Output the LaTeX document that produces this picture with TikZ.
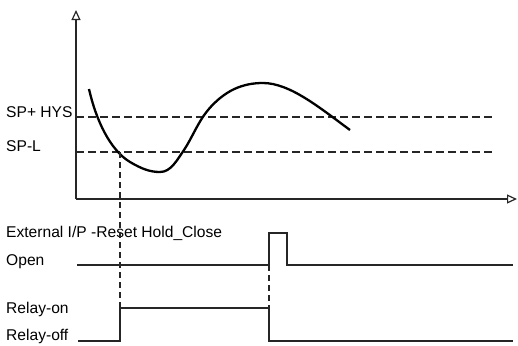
\documentclass[tikz,border=0pt]{standalone}
\usepackage{fontspec}
\setmainfont{Liberation Sans}
\usetikzlibrary{arrows.meta}
\begin{document}
\begin{tikzpicture}[x=1bp,y=-1bp,
  lbl/.style={anchor=base west,inner sep=0pt,font=\fontsize{15.6bp}{18bp}\selectfont},
  axis/.style={line width=1.3bp,color=black!85,-{Triangle[open,length=10bp,width=9bp,line width=1.2bp]}},
  hline/.style={line width=1.3bp,color=black!85,dash pattern=on 8bp off 4bp},
  vline/.style={line width=1.1bp,color=black!85,dash pattern=on 6bp off 4bp},
  sig/.style={line width=1.3bp,color=black!85},
  curve/.style={line width=2.3bp,color=black}]
\useasboundingbox (0,0) rectangle (518,345);
% axes
\coordinate (O) at (76,199);
\coordinate (Ytop) at (76,10);
\coordinate (Xend) at (517,199);
\draw[axis] (O) -- (Ytop);
\draw[axis] (O) -- (Xend);
% threshold lines
\coordinate (h1) at (76,117);
\coordinate (h2) at (492,117);
\coordinate (l1) at (76,152);
\coordinate (l2) at (492,152);
\draw[hline] (h1) -- (h2);
\draw[hline] (l1) -- (l2);
% labels
\node[lbl] (sphys) at (6,117) {SP+ HYS};
\node[lbl] (spl) at (6,151) {SP-L};
\node[lbl] (ext) at (6,237) {External I/P -Reset Hold\_Close};
\node[lbl] (open) at (6,265) {Open};
\node[lbl] (ron) at (6,313) {Relay-on};
\node[lbl] (roff) at (6,340) {Relay-off};
% process curve
\draw[curve] (89,89) .. controls (96,120) and (110,150) .. (130,162)
  .. controls (142,169) and (150,172) .. (160,172)
  .. controls (171,172) and (177,160) .. (184,150)
  .. controls (192,138) and (198,122) .. (208,110)
  .. controls (225,90) and (243,83) .. (263,83)
  .. controls (290,83) and (320,108) .. (350,130);
% switching verticals
\coordinate (c1) at (120,152);
\coordinate (r1) at (120,308);
\coordinate (p1) at (269,265);
\coordinate (r2) at (269,308);
\draw[vline] (c1) -- (r1);
\draw[vline] (p1) -- (r2);
% external input signal
\coordinate (e0) at (77,265);
\coordinate (e1) at (287,265);
\coordinate (e2) at (513,265);
\draw[sig] (e0) -- (p1) |- (277,233) -| (e1) -- (e2);
% relay signal
\coordinate (s0) at (78,341);
\coordinate (s1) at (120,341);
\coordinate (s2) at (269,341);
\coordinate (s3) at (513,341);
\draw[sig] (s0) -- (s1) -- (r1) -- (r2) -- (s2) -- (s3);
\end{tikzpicture}
\end{document}
